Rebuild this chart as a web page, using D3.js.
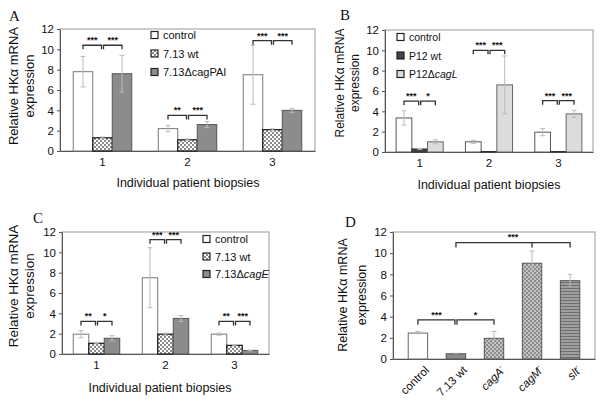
<!DOCTYPE html>
<html><head><meta charset="utf-8">
<script src="https://cdn.jsdelivr.net/npm/d3@7"></script>
<style>
body{margin:0;background:#fff}
text{font-family:"Liberation Sans",Arial,sans-serif;fill:#111}
</style>
</head><body>
<svg id="c" width="600" height="410"></svg>
<script>
// ---------- data ----------
const yTicks = [0, 2, 4, 6, 8, 10, 12];
const groups = ["1", "2", "3"];

const seriesA = ["control", "7.13 wt", "7.13ΔcagPAI"];
const valuesA = [[7.8, 2.2, 7.5], [1.3, 1.1, 2.1], [7.6, 2.6, 4.0]];
const errorsA = [[1.5, 0.3, 2.9], [0.08, 0.08, 0.08], [1.8, 0.3, 0.2]];
const starsA = [["***", "***"], ["**", "***"], ["***", "***"]];
const bracketA = [10.4, 3.5, 10.85];

const seriesB = ["control", "P12 wt", "P12ΔcagL"];
const valuesB = [[3.35, 1.0, 1.95], [0.3, 0.05, 0.05], [1.0, 6.6, 3.75]];
const errorsB = [[0.7, 0.15, 0.35], [0.04, 0.0, 0.0], [0.2, 2.85, 0.35]];
const starsB = [["***", "*"], ["***", "***"], ["***", "***"]];
const bracketB = [5.0, 10.0, 5.05];

const seriesC = ["control", "7.13 wt", "7.13ΔcagE"];
const valuesC = [[1.95, 7.5, 1.95], [1.05, 1.95, 0.85], [1.55, 3.5, 0.35]];
const errorsC = [[0.35, 2.95, 0.1], [0.05, 0.1, 0.05], [0.25, 0.3, 0.03]];
const starsC = [["**", "*"], ["***", "***"], ["**", "***"]];
const bracketC = [3.2, 11.25, 3.2];

const catsD = ["control", "7.13 wt", "cagA", "cagM", "slt"];
const valuesD = [2.45, 0.5, 1.95, 9.05, 7.4];
const errorsD = [0.15, 0.05, 0.65, 1.15, 0.6];
const lowBracketD = 3.7;
const highBracketD = 11.0;

const yTitle1 = "Relative HKα mRNA";
const yTitle2 = "expression";
const xTitle = "Individual patient biopsies";

// ---------- setup ----------
const svg = d3.select("#c");
const defs = svg.append("defs");

function checker(id, bg, fg, s) {
  const p = defs.append("pattern").attr("id", id).attr("width", 2 * s).attr("height", 2 * s)
    .attr("patternUnits", "userSpaceOnUse");
  p.append("rect").attr("width", 2 * s).attr("height", 2 * s).attr("fill", bg);
  p.append("rect").attr("width", s).attr("height", s).attr("fill", fg);
  p.append("rect").attr("x", s).attr("y", s).attr("width", s).attr("height", s).attr("fill", fg);
}
checker("chk", "#fff", "#8a8a8a", 2);
checker("dots", "#8c8c8c", "#c4c4c4", 2);
(function () {
  const p = defs.append("pattern").attr("id", "stripes").attr("width", 4).attr("height", 3)
    .attr("patternUnits", "userSpaceOnUse");
  p.append("rect").attr("width", 4).attr("height", 3).attr("fill", "#a0a0a0");
  p.append("rect").attr("width", 4).attr("height", 1).attr("fill", "#6e6e6e");
})();

function labelText(sel, str, italic) {
  const i = str.indexOf("Δ");
  if (!italic || i < 0) { sel.text(str); return; }
  sel.append("tspan").text(str.slice(0, i + 1));
  sel.append("tspan").attr("font-style", "italic").text(str.slice(i + 1));
}

function yAxisTitles(x1, x2, cy, fs) {
  svg.append("text").attr("transform", `translate(${x1},${cy}) rotate(-90)`)
    .attr("text-anchor", "middle").attr("dominant-baseline", "central")
    .attr("font-size", fs).text(yTitle1);
  svg.append("text").attr("transform", `translate(${x2},${cy}) rotate(-90)`)
    .attr("text-anchor", "middle").attr("dominant-baseline", "central")
    .attr("font-size", fs).text(yTitle2);
}

function letter(t, x, y) {
  svg.append("text").attr("x", x).attr("y", y).attr("font-size", 15)
    .style("font-family", "'Liberation Serif','Times New Roman',serif").text(t);
}

function styleAxis(a) {
  a.select(".domain").attr("stroke", "#555");
  a.selectAll(".tick line").attr("stroke", "#555");
  a.selectAll(".tick text").attr("font-size", 11.5).attr("fill", "#111")
    .style("font-family", "'Liberation Sans',Arial,sans-serif");
}

function bracket(g, xa, xb, yy, label, tick) {
  g.append("path").attr("d", `M${xa},${yy + tick}V${yy}H${xb}V${yy + tick}`)
    .attr("fill", "none").attr("stroke", "#333").attr("stroke-width", 1.3);
  g.append("text").attr("x", (xa + xb) / 2).attr("y", yy - 2).attr("text-anchor", "middle")
    .attr("font-size", 9).attr("font-weight", "bold").text(label);
}

function grouped(o) {
  const g = svg.append("g");
  const y = d3.scaleLinear().domain([0, 12]).range([o.bottom, o.top]);
  const x = d3.scaleBand().domain(groups).range([o.left, o.right]);
  const bw = x.bandwidth();
  const xs = d3.scaleBand().domain(o.series)
    .range([(bw - o.barW * 3) / 2, (bw + o.barW * 3) / 2]);

  g.append("rect").attr("x", o.left).attr("y", o.top).attr("width", o.right - o.left)
    .attr("height", o.bottom - o.top).attr("fill", "none").attr("stroke", "#999");

  const ya = g.append("g").attr("transform", `translate(${o.left},0)`)
    .call(d3.axisLeft(y).tickValues(yTicks).tickSize(3).tickSizeOuter(0).tickPadding(3));
  styleAxis(ya);
  const xa = g.append("g").attr("transform", `translate(0,${o.bottom})`)
    .call(d3.axisBottom(x).tickSize(0).tickSizeOuter(0).tickPadding(7));
  styleAxis(xa);

  o.series.forEach((s, si) => {
    const d = groups.map((gr, gi) => ({ gr, v: o.values[si][gi], e: o.errors[si][gi] }));
    g.selectAll(null).data(d).join("rect")
      .attr("x", k => x(k.gr) + xs(s)).attr("width", xs.bandwidth())
      .attr("y", k => y(k.v)).attr("height", k => y(0) - y(k.v))
      .attr("fill", o.fills[si]).attr("stroke", o.strokes[si]).attr("stroke-width", o.sw[si]);
    const eg = g.selectAll(null).data(d.filter(k => k.e > 0)).join("g")
      .attr("stroke", "#bbb").attr("stroke-width", 1);
    eg.append("line").attr("x1", k => x(k.gr) + xs(s) + xs.bandwidth() / 2)
      .attr("x2", k => x(k.gr) + xs(s) + xs.bandwidth() / 2)
      .attr("y1", k => y(k.v - k.e)).attr("y2", k => y(k.v + k.e));
    [1, -1].forEach(sg => {
      eg.append("line").attr("x1", k => x(k.gr) + xs(s) + xs.bandwidth() / 2 - 2.5)
        .attr("x2", k => x(k.gr) + xs(s) + xs.bandwidth() / 2 + 2.5)
        .attr("y1", k => y(k.v + sg * k.e)).attr("y2", k => y(k.v + sg * k.e));
    });
  });

  groups.forEach((gr, gi) => {
    const cx = s => x(gr) + xs(s) + xs.bandwidth() / 2;
    for (let k = 0; k < 2; k++) {
      bracket(g, cx(o.series[k]) + (k === 1 ? 1 : 0), cx(o.series[k + 1]) - (k === 0 ? 1 : 0),
        y(o.bracket[gi]), o.stars[gi][k], 4);
    }
  });

  o.series.forEach((s, si) => {
    const ly = o.legY + si * o.legDy;
    g.append("rect").attr("x", o.legX).attr("y", ly - 3.5).attr("width", 7).attr("height", 7)
      .attr("fill", o.fills[si]).attr("stroke", "#222").attr("stroke-width", 1.2);
    const t = g.append("text").attr("x", o.legX + 12).attr("y", ly).attr("dominant-baseline", "central")
      .attr("font-size", o.legFs);
    labelText(t, s, o.italic);
  });

  svg.append("text").attr("x", o.xtX).attr("y", o.xtY).attr("text-anchor", "middle")
    .attr("dominant-baseline", "central").attr("font-size", 12.5).text(xTitle);
}

// ---------- panel A ----------
grouped({
  left: 60, right: 315, top: 29, bottom: 151, barW: 19.5,
  series: seriesA, values: valuesA, errors: errorsA, stars: starsA, bracket: bracketA,
  fills: ["#fff", "url(#chk)", "#8c8c8c"], strokes: ["#777", "#222", "#555"], sw: [1, 1.3, 1],
  legX: 151, legY: 35, legDy: 18.5, legFs: 11, italic: false, xtX: 188, xtY: 183
});
yAxisTitles(13, 29, 86, 13);
letter("A", 9, 21);

// ---------- panel B ----------
grouped({
  left: 385, right: 593, top: 30, bottom: 152, barW: 15.7,
  series: seriesB, values: valuesB, errors: errorsB, stars: starsB, bracket: bracketB,
  fills: ["#fff", "#444", "#dcdcdc"], strokes: ["#555", "#333", "#666"], sw: [1, 1, 1],
  legX: 397, legY: 37, legDy: 18.5, legFs: 10.5, italic: true, xtX: 489, xtY: 185
});
yAxisTitles(340, 355, 83, 12);
letter("B", 340, 20);

// ---------- panel C ----------
grouped({
  left: 62, right: 269, top: 232, bottom: 354, barW: 15.5,
  series: seriesC, values: valuesC, errors: errorsC, stars: starsC, bracket: bracketC,
  fills: ["#fff", "url(#chk)", "#8c8c8c"], strokes: ["#777", "#222", "#555"], sw: [1, 1.3, 1],
  legX: 203, legY: 239, legDy: 17.5, legFs: 11, italic: true, xtX: 160, xtY: 388
});
yAxisTitles(13, 29, 286, 13.5);
letter("C", 33, 223);

// ---------- panel D ----------
(function () {
  const g = svg.append("g");
  const left = 393, right = 595, top = 232, bottom = 359;
  const y = d3.scaleLinear().domain([0, 12]).range([bottom, top]);
  const x = d3.scaleBand().domain(catsD).range([left, right]).paddingInner(0.49).paddingOuter(0.4);
  const fills = ["#fff", "#8a8a8a", "url(#dots)", "url(#dots)", "url(#stripes)"];
  const strokes = ["#666", "#555", "#555", "#555", "#555"];

  g.append("rect").attr("x", left).attr("y", top).attr("width", right - left)
    .attr("height", bottom - top).attr("fill", "none").attr("stroke", "#999");
  const ya = g.append("g").attr("transform", `translate(${left},0)`)
    .call(d3.axisLeft(y).tickValues(yTicks).tickSize(3).tickSizeOuter(0).tickPadding(3));
  styleAxis(ya);
  const xa = g.append("g").attr("transform", `translate(0,${bottom})`)
    .call(d3.axisBottom(x).tickSize(0).tickSizeOuter(0).tickFormat(""));
  styleAxis(xa);

  const d = catsD.map((c, i) => ({ c, v: valuesD[i], e: errorsD[i], i }));
  g.selectAll(null).data(d).join("rect")
    .attr("x", k => x(k.c)).attr("width", x.bandwidth())
    .attr("y", k => y(k.v)).attr("height", k => y(0) - y(k.v))
    .attr("fill", k => fills[k.i]).attr("stroke", k => strokes[k.i]);
  const cx = c => x(c) + x.bandwidth() / 2;
  const eg = g.selectAll(null).data(d).join("g").attr("stroke", "#bbb");
  eg.append("line").attr("x1", k => cx(k.c)).attr("x2", k => cx(k.c))
    .attr("y1", k => y(k.v - k.e)).attr("y2", k => y(k.v + k.e));
  eg.append("line").attr("x1", k => cx(k.c) - 2.5).attr("x2", k => cx(k.c) + 2.5)
    .attr("y1", k => y(k.v + k.e)).attr("y2", k => y(k.v + k.e));

  // tick labels
  d.forEach(k => {
    const t = svg.append("text")
      .attr("transform", `translate(${cx(k.c) + 9},${bottom + 9}) rotate(-45)`)
      .attr("text-anchor", "end").attr("dominant-baseline", "central").attr("font-size", 11.5);
    if (k.i < 2) t.text(k.c);
    else {
      t.append("tspan").attr("font-style", "italic").text(k.c);
      t.append("tspan").attr("font-size", 7).attr("dy", -4).text("-");
    }
  });

  // brackets
  bracket(g, cx(catsD[0]), cx(catsD[1]) - 1, y(lowBracketD), "***", 5);
  bracket(g, cx(catsD[1]) + 1, cx(catsD[2]), y(lowBracketD), "*", 5);
  const yh = y(highBracketD);
  g.append("path").attr("d",
    `M${cx(catsD[1])},${yh + 5}V${yh}H${cx(catsD[4])}V${yh + 5}M${cx(catsD[3])},${yh}V${yh + 5}`)
    .attr("fill", "none").attr("stroke", "#333").attr("stroke-width", 1.3);
  g.append("text").attr("x", (cx(catsD[1]) + cx(catsD[4])) / 2).attr("y", yh - 3)
    .attr("text-anchor", "middle").attr("font-size", 9).attr("font-weight", "bold").text("***");
})();
yAxisTitles(343, 362, 295, 12.5);
letter("D", 345, 227);
</script>
</body></html>
